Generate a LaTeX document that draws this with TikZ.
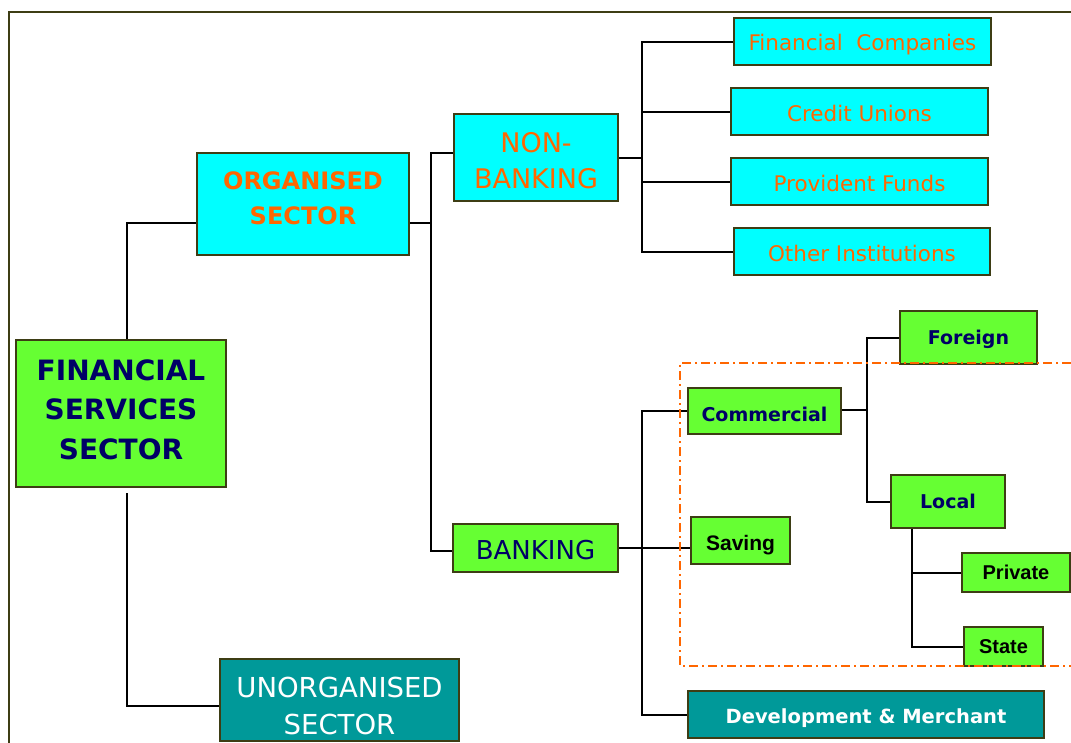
\documentclass[tikz,border=0pt]{standalone}
\usepackage{fontspec}
\setmainfont{DejaVu Sans}
\newfontfamily\arialf{Liberation Sans}
\definecolor{boxgreen}{HTML}{66FF33}
\definecolor{boxcyan}{HTML}{00FFFF}
\definecolor{boxteal}{HTML}{009999}
\definecolor{orangetxt}{HTML}{FF6600}
\definecolor{navytxt}{HTML}{000066}
\definecolor{olive}{HTML}{3D3D14}
\newcommand{\vmove}[2]{\raisebox{#1}[\height][\depth]{#2}}
\tikzset{
  box/.style={draw=olive, line width=2pt, inner sep=0pt, align=center},
  gbox/.style={box, fill=boxgreen},
  cbox/.style={box, fill=boxcyan, text=orangetxt},
  tbox/.style={box, fill=boxteal, text=white},
  conn/.style={line width=2pt, black},
  frame/.style={draw=olive, line width=2pt},
  dashbox/.style={draw=orangetxt, line width=1.5pt, dash pattern=on 9pt off 4pt on 2pt off 4pt},
}
\begin{document}
\begin{tikzpicture}[x=1pt,y=-1pt]
\useasboundingbox (0,0) rectangle (1071,742);
\draw[frame] (9,12) rectangle (1085,760);

% connector junctions
\coordinate (j1) at (127,223);
\coordinate (j1b) at (127,706);
\coordinate (j2) at (431,223);
\coordinate (j2t) at (431,153);
\coordinate (j2b) at (431,551);
\coordinate (j3) at (642,158);
\coordinate (j4) at (642,548);
\coordinate (j5) at (867,410);
\coordinate (j6) at (912,0);

% nodes
\node[gbox, minimum width=210, minimum height=147, text=navytxt, font=\bfseries\fontsize{28}{39.5}\selectfont] (fss) at (121,413.5) {\vmove{1.5pt}{\begin{tabular}{@{}c@{}}FINANCIAL\\SERVICES\\SECTOR\end{tabular}}};
\node[cbox, minimum width=212, minimum height=102, font=\bfseries\fontsize{24}{35}\selectfont] (org) at (303,204) {\vmove{4pt}{\begin{tabular}{@{}c@{}}ORGANISED\\SECTOR\end{tabular}}};
\node[tbox, minimum width=239, minimum height=82, font=\fontsize{27.5}{37}\selectfont] (unorg) at (339.5,700) {\vmove{-8.5pt}{\begin{tabular}{@{}c@{}}UNORGANISED\\SECTOR\end{tabular}}};
\node[cbox, minimum width=164, minimum height=87, font=\fontsize{27}{36}\selectfont] (nonbank) at (536,157.5) {\vmove{-6pt}{\begin{tabular}{@{}c@{}}NON-\\BANKING\end{tabular}}};
\node[gbox, minimum width=165, minimum height=48, text=navytxt, font=\fontsize{26}{30}\selectfont] (bank) at (535.5,548) {\vmove{-2pt}{BANKING}};

\node[cbox, minimum width=257, minimum height=47, font=\fontsize{21.5}{26}\selectfont] (fc) at (862.5,41.5) {\vmove{-3pt}{Financial~ Companies}};
\node[cbox, minimum width=257, minimum height=47, font=\fontsize{21.5}{26}\selectfont] (cu) at (859.5,111.5) {\vmove{-2pt}{Credit Unions}};
\node[cbox, minimum width=257, minimum height=47, font=\fontsize{21.5}{26}\selectfont] (pf) at (859.5,181.5) {\vmove{-2pt}{Provident Funds}};
\node[cbox, minimum width=256, minimum height=47, font=\fontsize{21.5}{26}\selectfont] (oi) at (862,251.5) {\vmove{-2pt}{Other Institutions}};

\node[gbox, minimum width=153, minimum height=46, text=navytxt, font=\bfseries\fontsize{19}{23}\selectfont] (comm) at (764.5,411) {\vmove{-3pt}{Commercial}};
\node[gbox, minimum width=137, minimum height=53, text=navytxt, font=\bfseries\fontsize{19}{23}\selectfont] (foreign) at (968.5,337.5) {\vmove{-2pt}{Foreign}};
\node[gbox, minimum width=114, minimum height=53, text=navytxt, font=\bfseries\fontsize{19}{23}\selectfont] (local) at (948,501.5) {Local};
\node[gbox, minimum width=99, minimum height=47, text=black, font=\arialf\bfseries\fontsize{21}{25}\selectfont] (saving) at (740.5,540.5) {\vmove{-5pt}{Saving}};
\node[gbox, minimum width=108, minimum height=39, text=black, font=\arialf\bfseries\fontsize{20}{24}\selectfont] (private) at (1016,572.5) {Private};
\node[gbox, minimum width=79, minimum height=39, text=black, font=\arialf\bfseries\fontsize{20}{24}\selectfont] (state) at (1003.5,646.5) {State};
\node[tbox, minimum width=356, minimum height=47, font=\bfseries\fontsize{19.5}{24}\selectfont] (dev) at (866,714.5) {\vmove{-4pt}{Development \& Merchant}};

% connectors
\draw[conn] (fss.north -| j1) -- (j1) -- (org.west |- j1);
\draw[conn, shorten <=5pt] (fss.south -| j1) -- (j1b) -- (unorg.west |- j1b);
\draw[conn] (org.east |- j2) -- (j2);
\draw[conn] (nonbank.west |- j2t) -- (j2t) -- (j2b) -- (bank.west |- j2b);
\draw[conn] (nonbank.east |- j3) -- (j3);
\draw[conn] (fc.west) -- (fc.west -| j3) -- (oi.west -| j3) -- (oi.west);
\draw[conn] (cu.west) -- (cu.west -| j3);
\draw[conn] (pf.west) -- (pf.west -| j3);
\draw[conn] (bank.east |- j4) -- (saving.west |- j4);
\draw[conn] (comm.west) -- (comm.west -| j4) -- (dev.west -| j4) -- (dev.west);
\draw[conn] (comm.east |- j5) -- (j5);
\draw[conn] (foreign.west) -- (foreign.west -| j5) -- (local.west -| j5) -- (local.west);
\draw[conn] (local.south -| j6) -- (state.west -| j6) -- (state.west);
\draw[conn] (private.west) -- (private.west -| j6);

% dash-dot region
\draw[dashbox] (1090,363) -- (680,363) -- (680,666) -- (1090,666);
\end{tikzpicture}
\end{document}
